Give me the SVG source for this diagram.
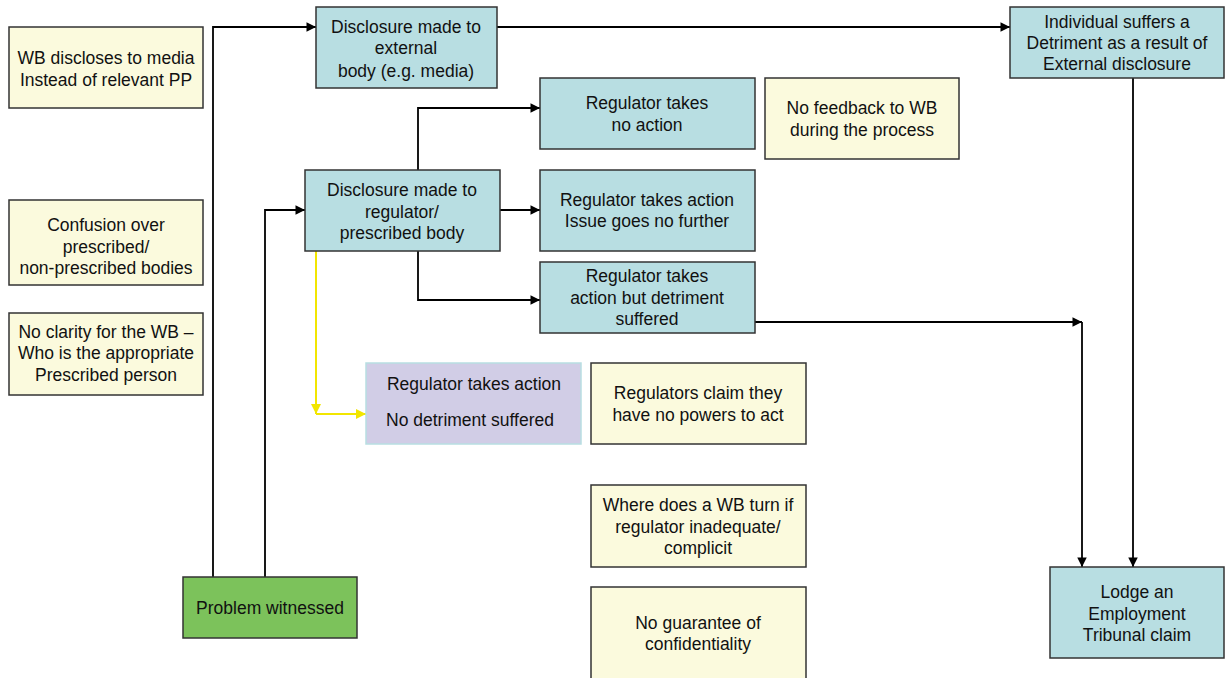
<svg xmlns="http://www.w3.org/2000/svg" width="1225" height="678" viewBox="0 0 1225 678">
<style>
  .box rect { stroke: #333; stroke-width: 1.5; }
  .blue rect { fill: #b8dee2; }
  .note rect { fill: #fbfadd; }
  .green rect { fill: #7cc25b; }
  .purple rect { fill: #d1cde6; stroke: #b8dee2; }
  text { font-family: "Liberation Sans", Arial, sans-serif; font-size: 17.5px; fill: #111; text-anchor: middle; }
  .conn path { fill: none; stroke: #000; stroke-width: 1.8; }
  .conn path.yel { stroke: #f2e600; stroke-width: 2; }
</style>
<defs>
  <marker id="ah" viewBox="0 0 10 10" refX="10" refY="5" markerWidth="11" markerHeight="9.5" markerUnits="userSpaceOnUse" orient="auto">
    <path d="M0 0 L10 5 L0 10 Z" fill="#000"/>
  </marker>
  <marker id="ahy" viewBox="0 0 10 10" refX="10" refY="5" markerWidth="10" markerHeight="10" markerUnits="userSpaceOnUse" orient="auto">
    <path d="M0 0 L10 5 L0 10 Z" fill="#f2e600"/>
  </marker>
</defs>

<g id="connectors" class="conn">
  <path d="M213 577 V27 H316" marker-end="url(#ah)"/>
  <path d="M265 577 V210 H305" marker-end="url(#ah)"/>
  <path d="M497 27 H1010" marker-end="url(#ah)"/>
  <path d="M418 170 V108 H540" marker-end="url(#ah)"/>
  <path d="M500 210 H540" marker-end="url(#ah)"/>
  <path d="M418 251 V300 H540" marker-end="url(#ah)"/>
  <path d="M755 322 H1082" marker-end="url(#ah)"/>
  <path d="M1082 322 V567" marker-end="url(#ah)"/>
  <path d="M1133 78 V567" marker-end="url(#ah)"/>
  <path class="yel" d="M316 251 V414" marker-end="url(#ahy)"/>
  <path class="yel" d="M316 414 H366" marker-end="url(#ahy)"/>
</g>

<g id="n-wb-media" class="box note">
  <rect x="9" y="27" width="194" height="81"/>
  <text x="106" y="64">WB discloses to media</text>
  <text x="106" y="86">Instead of relevant PP</text>
</g>
<g id="n-confusion" class="box note">
  <rect x="9" y="200" width="194" height="85"/>
  <text x="106" y="231">Confusion over</text>
  <text x="106" y="253">prescribed/</text>
  <text x="106" y="274">non-prescribed bodies</text>
</g>
<g id="n-clarity" class="box note">
  <rect x="9" y="313" width="194" height="82"/>
  <text x="106" y="338">No clarity for the WB –</text>
  <text x="106" y="359">Who is the appropriate</text>
  <text x="106" y="381">Prescribed person</text>
</g>
<g id="n-external" class="box blue">
  <rect x="316" y="7" width="181" height="81"/>
  <text x="406" y="33">Disclosure made to</text>
  <text x="406" y="54">external</text>
  <text x="406" y="77">body (e.g. media)</text>
</g>
<g id="n-regulator" class="box blue">
  <rect x="305" y="170" width="195" height="81"/>
  <text x="402" y="196">Disclosure made to</text>
  <text x="402" y="218">regulator/</text>
  <text x="402" y="239">prescribed body</text>
</g>
<g id="n-no-action" class="box blue">
  <rect x="540" y="78" width="215" height="71"/>
  <text x="647" y="109">Regulator takes</text>
  <text x="647" y="131">no action</text>
</g>
<g id="n-no-feedback" class="box note">
  <rect x="765" y="78" width="194" height="81"/>
  <text x="862" y="114">No feedback to WB</text>
  <text x="862" y="136">during the process</text>
</g>
<g id="n-issue" class="box blue">
  <rect x="540" y="170" width="215" height="81"/>
  <text x="647" y="206">Regulator takes action</text>
  <text x="647" y="227">Issue goes no further</text>
</g>
<g id="n-detriment" class="box blue">
  <rect x="540" y="262" width="215" height="71"/>
  <text x="647" y="282">Regulator takes</text>
  <text x="647" y="304">action but detriment</text>
  <text x="647" y="325">suffered</text>
</g>
<g id="n-individual" class="box blue">
  <rect x="1010" y="7" width="214" height="71"/>
  <text x="1117" y="28">Individual suffers a</text>
  <text x="1117" y="49">Detriment as a result of</text>
  <text x="1117" y="70">External disclosure</text>
</g>
<g id="n-no-detriment" class="box purple">
  <rect x="366" y="363" width="215" height="81"/>
  <text x="474" y="390">Regulator takes action</text>
  <text x="470" y="426">No detriment suffered</text>
</g>
<g id="n-no-powers" class="box note">
  <rect x="591" y="363" width="215" height="81"/>
  <text x="698" y="399">Regulators claim they</text>
  <text x="698" y="421">have no powers to act</text>
</g>
<g id="n-where" class="box note">
  <rect x="591" y="485" width="215" height="82"/>
  <text x="698" y="511">Where does a WB turn if</text>
  <text x="698" y="533">regulator inadequate/</text>
  <text x="698" y="554">complicit</text>
</g>
<g id="n-confidentiality" class="box note">
  <rect x="591" y="587" width="215" height="95"/>
  <text x="698" y="629">No guarantee of</text>
  <text x="698" y="650">confidentiality</text>
</g>
<g id="n-problem" class="box green">
  <rect x="183" y="577" width="174" height="61"/>
  <text x="270" y="614">Problem witnessed</text>
</g>
<g id="n-lodge" class="box blue">
  <rect x="1050" y="567" width="174" height="91"/>
  <text x="1137" y="598">Lodge an</text>
  <text x="1137" y="620">Employment</text>
  <text x="1137" y="641">Tribunal claim</text>
</g>
</svg>
